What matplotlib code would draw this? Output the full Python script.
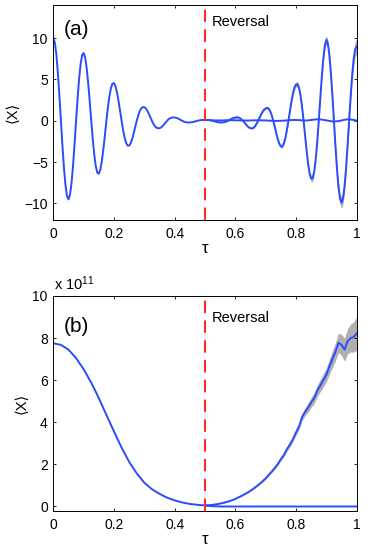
import numpy as np
import matplotlib
matplotlib.use('Agg')
import matplotlib.pyplot as plt

# 字体 (MATLAB 风格)
plt.rcParams['font.family'] = ['Liberation Sans', 'DejaVu Sans']
plt.rcParams['mathtext.fontset'] = 'custom'
plt.rcParams['mathtext.rm'] = 'Liberation Sans'
plt.rcParams['mathtext.default'] = 'regular'

# ---- 数据 (a) ----
tau_fwd = np.linspace(0, 0.5, 101)
tau_rev = np.linspace(0.5, 1.0, 101)
tau_flat = np.linspace(0.5, 1.0, 51)

x_fwd_a = [10.0, 9.46, 8.01, 5.79, 3.03, 0.0, -3.0, -5.67, -7.77, -9.08,
           -9.5, -8.94, -7.52, -5.41, -2.81, 0.0, 2.72, 5.09, 6.88, 7.94,
           8.2, 7.64, 6.35, 4.52, 2.32, 0.0, -2.21, -4.1, -5.5, -6.28,
           -6.4, -5.9, -4.85, -3.43, -1.75, 0.0, 1.64, 3.0, 3.96, 4.5,
           4.55, 4.17, 3.4, 2.38, 1.21, 0.0, -1.11, -2.03, -2.67, -3.0,
           -3.0, -2.71, -2.18, -1.5, -0.74, 0.0, 0.66, 1.19, 1.52, 1.65,
           1.65, 1.5, 1.21, 0.84, 0.42, 0.0, -0.37, -0.66, -0.84, -0.9,
           -0.9, -0.81, -0.65, -0.44, -0.22, 0.0, 0.19, 0.32, 0.38, 0.4,
           0.4, 0.36, 0.29, 0.2, 0.1, 0.0, -0.09, -0.15, -0.19, -0.2,
           -0.2, -0.18, -0.15, -0.1, -0.05, 0.0, 0.04, 0.08, 0.1, 0.1,
           0.1]
x_grow_a = [0.1, 0.1, 0.1, 0.08, 0.04, 0.0, -0.05, -0.1, -0.15, -0.18,
            -0.2, -0.21, -0.19, -0.15, -0.09, 0.0, 0.1, 0.2, 0.29, 0.36,
            0.4, 0.43, 0.4, 0.32, 0.19, 0.0, -0.22, -0.44, -0.65, -0.81,
            -0.9, -0.91, -0.83, -0.64, -0.35, 0.0, 0.39, 0.78, 1.12, 1.37,
            1.5, 1.57, 1.46, 1.15, 0.65, 0.0, -0.74, -1.52, -2.22, -2.79,
            -3.1, -3.07, -2.71, -2.05, -1.11, 0.0, 1.19, 2.34, 3.32, 4.04,
            4.4, 4.42, 3.96, 3.03, 1.67, 0.0, -1.82, -3.65, -5.26, -6.42,
            -7.0, -6.94, -6.15, -4.65, -2.53, 0.0, 2.72, 5.32, 7.52, 9.08,
            9.8, 9.32, 7.93, 5.76, 3.03, 0.0, -3.04, -5.81, -8.01, -9.41,
            -9.9, -9.37, -7.93, -5.7, -2.97, 0.0, 2.9, 5.47, 7.44, 8.65,
            9.0]
err_grow_a = [0.03, 0.03, 0.03, 0.03, 0.03, 0.03, 0.03, 0.03, 0.04, 0.04,
              0.04, 0.04, 0.04, 0.05, 0.05, 0.05, 0.05, 0.05, 0.06, 0.06,
              0.06, 0.06, 0.07, 0.07, 0.07, 0.08, 0.08, 0.08, 0.09, 0.09,
              0.1, 0.1, 0.1, 0.11, 0.11, 0.12, 0.12, 0.13, 0.13, 0.14,
              0.15, 0.15, 0.16, 0.17, 0.18, 0.18, 0.19, 0.2, 0.21, 0.22,
              0.23, 0.23, 0.24, 0.25, 0.26, 0.26, 0.27, 0.28, 0.29, 0.3,
              0.3, 0.31, 0.32, 0.33, 0.34, 0.35, 0.36, 0.37, 0.38, 0.39,
              0.4, 0.41, 0.42, 0.43, 0.44, 0.45, 0.46, 0.47, 0.48, 0.5,
              0.52, 0.53, 0.54, 0.55, 0.56, 0.58, 0.6, 0.62, 0.64, 0.66,
              0.68, 0.7, 0.72, 0.74, 0.76, 0.78, 0.8, 0.83, 0.86, 0.9,
              0.95]
x_flat_a = [0.10, 0.09, 0.07, 0.05, 0.04, 0.04, 0.05, 0.06, 0.07, 0.07,
            0.06, 0.05, 0.04, 0.03, 0.03, 0.04, 0.05, 0.06, 0.06, 0.05,
            0.04, 0.02, 0.0, -0.01, -0.01, 0.0, 0.02, 0.05, 0.08, 0.1,
            0.1, 0.08, 0.05, 0.03, 0.05, 0.1, 0.15, 0.18, 0.17, 0.12,
            0.05, -0.02, -0.07, -0.08, -0.04, 0.04, 0.12, 0.17, 0.16, 0.1,
            0.03]

# ---- 数据 (b), 单位 1e11 ----
tau_fwd_b = np.linspace(0, 0.5, 21)
x_fwd_b = [7.75, 7.68, 7.45, 7.05, 6.52, 5.88, 5.15, 4.35, 3.56, 2.8,
           2.12, 1.57, 1.13, 0.82, 0.6, 0.42, 0.29, 0.19, 0.12, 0.08,
           0.05]
x_grow_b = [0.05, 0.06, 0.07, 0.09, 0.11, 0.14, 0.17, 0.21, 0.25, 0.3,
            0.36, 0.43, 0.5, 0.58, 0.66, 0.75, 0.85, 0.96, 1.08, 1.2,
            1.34, 1.5, 1.66, 1.83, 2.02, 2.25, 2.45, 2.72, 2.95, 3.2,
            3.52, 3.8, 4.25, 4.5, 4.7, 4.95, 5.15, 5.5, 5.75, 6.0,
            6.25, 6.65, 7.0, 7.35, 7.78, 7.68, 7.45, 7.85, 8.0, 8.05,
            8.22]
err_grow_b = [0.0, 0.0, 0.0, 0.0, 0.0, 0.0, 0.01, 0.01, 0.01, 0.01,
              0.01, 0.01, 0.02, 0.02, 0.02, 0.02, 0.03, 0.03, 0.03, 0.04,
              0.04, 0.05, 0.05, 0.06, 0.07, 0.08, 0.09, 0.1, 0.11, 0.12,
              0.14, 0.15, 0.17, 0.19, 0.21, 0.23, 0.25, 0.27, 0.29, 0.31,
              0.33, 0.36, 0.39, 0.42, 0.46, 0.5, 0.55, 0.6, 0.66, 0.72,
              0.8]
x_flat_b = [0.05, 0.03, 0.02, 0.01, 0.01, 0.0, 0.0, 0.0, 0.0, 0.0,
            0.0, 0.0, 0.0, 0.0, 0.0, 0.0, 0.0, 0.0, 0.0, 0.0,
            0.0, 0.0, 0.0, 0.0, 0.0, 0.0, 0.0, 0.0, 0.0, 0.0,
            0.0, 0.0, 0.0, 0.0, 0.0, 0.0, 0.0, 0.0, 0.0, 0.0,
            0.0, 0.0, 0.0, 0.0, 0.0, 0.0, 0.0, 0.0, 0.0, 0.0,
            0.0]

xticks = [0, 0.2, 0.4, 0.6, 0.8, 1.0]
xticklabels = ['0', '0.2', '0.4', '0.6', '0.8', '1']

blue = '#2a4cff'
red = '#ff2a2a'
grey = '#b0b0b0'

fig = plt.figure(figsize=(3.82, 5.59), dpi=100)
ax1 = fig.add_axes([0.1396, 0.6064, 0.7941, 0.3846])
ax2 = fig.add_axes([0.1396, 0.0864, 0.7941, 0.3841])


def style(ax):
    ax.set_xlim(0, 1)
    ax.set_xticks(xticks)
    ax.set_xticklabels(xticklabels)
    ax.tick_params(direction='in', length=2.5, width=0.6, labelsize=10,
                   top=True, right=True)
    ax.tick_params(axis='x', pad=5)
    ax.tick_params(axis='y', pad=4)
    for s in ax.spines.values():
        s.set_linewidth(0.7)
    ax.set_xlabel('τ', fontsize=12, labelpad=0)
    ax.set_ylabel('⟨X⟩', fontsize=10.5, labelpad=3)


# (a)
ax1.fill_between(tau_rev, np.array(x_grow_a) - np.array(err_grow_a),
                 np.array(x_grow_a) + np.array(err_grow_a),
                 color=grey, lw=0, zorder=1)
ax1.plot(tau_fwd, x_fwd_a, color=blue, lw=1.4, zorder=2)
ax1.plot(tau_flat, x_flat_a, color=blue, lw=1.4, zorder=2)
ax1.plot(tau_rev, x_grow_a, color=blue, lw=1.4, zorder=2)
ax1.axvline(0.5, color=red, lw=1.5, dashes=(6, 3.5), zorder=3)
ax1.set_ylim(-12, 14)
ax1.set_yticks([-10, -5, 0, 5, 10])
style(ax1)
ax1.text(0.033, 11.0, '(a)', fontsize=15, va='center')
ax1.text(0.523, 11.9, 'Reversal', fontsize=10.5, va='center')

# (b)
ax2.fill_between(tau_flat, np.array(x_grow_b) - np.array(err_grow_b),
                 np.array(x_grow_b) + np.array(err_grow_b),
                 color=grey, lw=0, zorder=1)
ax2.plot(tau_fwd_b, x_fwd_b, color=blue, lw=1.4, zorder=2)
ax2.plot(tau_flat, x_flat_b, color=blue, lw=1.4, zorder=2)
ax2.plot(tau_flat, x_grow_b, color=blue, lw=1.4, zorder=2)
ax2.axvline(0.5, color=red, lw=1.5, dashes=(6, 3.5), zorder=3)
ax2.set_ylim(-0.2, 10)
ax2.set_yticks([0, 2, 4, 6, 8, 10])
style(ax2)
ax2.text(0.033, 8.55, '(b)', fontsize=15, va='center')
ax2.text(0.523, 8.95, 'Reversal', fontsize=10.5, va='center')
ax2.text(0.003, 1.015, 'x 10$^{11}$', transform=ax2.transAxes, fontsize=10.5,
         va='bottom', ha='left')

fig.savefig('out.png', dpi=100)
